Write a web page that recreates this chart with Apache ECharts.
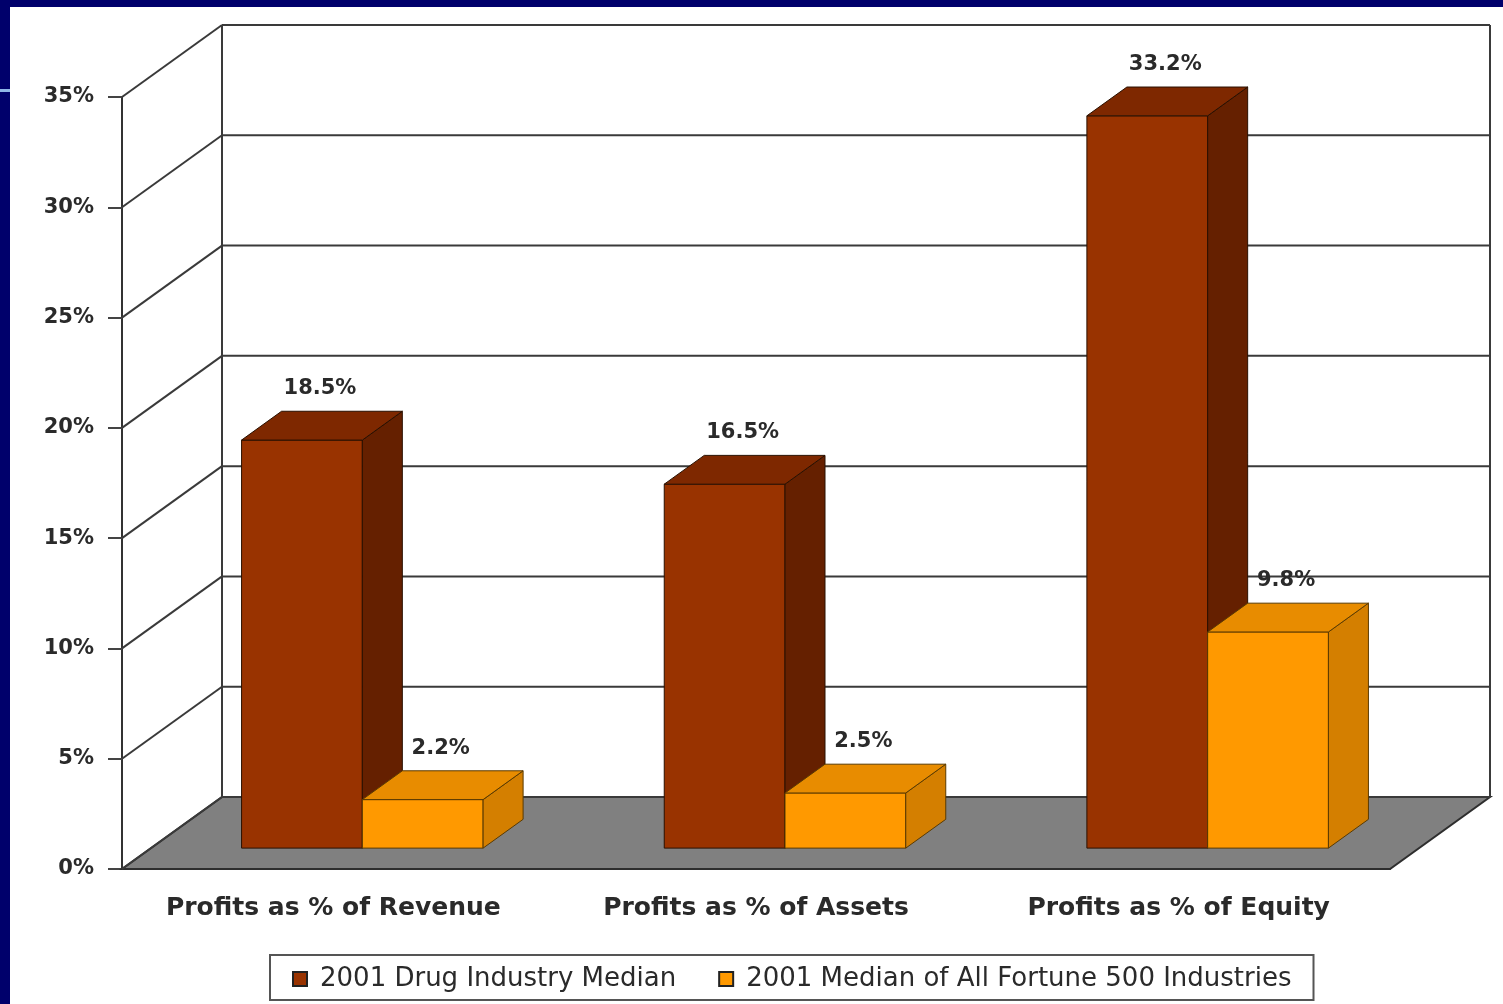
<!DOCTYPE html>
<html>
<head>
<meta charset="utf-8">
<script src="https://cdn.jsdelivr.net/npm/echarts@6/dist/echarts.min.js"></script>
<style>
  html, body { margin: 0; padding: 0; background: #ffffff; }
  #chart { width: 1503px; height: 1004px; }
</style>
</head>
<body>
<div id="chart"></div>
<script>
// Profit comparison, 2001: drug industry vs. all Fortune 500 industries
const categories = ['Profits as % of Revenue', 'Profits as % of Assets', 'Profits as % of Equity'];
const drugMedian = [18.5, 16.5, 33.2];
const fortuneMedian = [2.2, 2.5, 9.8];
const yTicks = [0, 5, 10, 15, 20, 25, 30, 35];
const seriesNames = ['2001 Drug Industry Median', '2001 Median of All Fortune 500 Industries'];

// Pseudo-3D projection: the back wall sits DX right and DY up from the front plane
const DX = 100, DY = 72;
const BAR_FRONT = 0.29;   // depth fraction where bar front faces sit
const BAR_DEPTH = 0.40;   // depth fraction taken by each bar
const GAP = 1.5;          // gap between groups, in bar widths

const FONT = '"DejaVu Sans", Verdana, sans-serif';

const palettes = [
  { front: '#993300', side: '#652000', top: '#7e2800', stroke: '#2a1000' },
  { front: '#ff9900', side: '#d47f00', top: '#e88c00', stroke: '#5a3a00' }
];

function renderWalls(params, api) {
  const cs = params.coordSys;
  const y = api.coord([0, api.value(1)])[1];
  const left = cs.x, right = cs.x + cs.width;
  const children = [];
  const lineStyle = { stroke: '#3a3a3a', lineWidth: 2 };
  if (params.dataIndex === 0) {
    const top = api.coord([0, yTicks[yTicks.length - 1]])[1];
    // floor
    children.push({
      type: 'polygon',
      shape: { points: [[left, y], [right, y], [right + DX, y - DY], [left + DX, y - DY]] },
      style: { fill: '#808080', stroke: '#2e2e2e', lineWidth: 2 }
    });
    // back wall side edges
    children.push({ type: 'line', shape: { x1: left + DX, y1: top - DY, x2: left + DX, y2: y - DY }, style: lineStyle });
    children.push({ type: 'line', shape: { x1: right + DX, y1: top - DY, x2: right + DX, y2: y - DY }, style: lineStyle });
  }
  // gridline on the back wall and its continuation on the left wall
  children.push({ type: 'line', shape: { x1: left + DX, y1: y - DY, x2: right + DX, y2: y - DY }, style: lineStyle });
  children.push({ type: 'line', shape: { x1: left, y1: y, x2: left + DX, y2: y - DY }, style: { stroke: '#3a3a3a', lineWidth: 2 } });
  return { type: 'group', children };
}

function makeBarRenderer(slot) {
  const pal = palettes[slot];
  return function (params, api) {
    const i = api.value(0), v = api.value(1);
    const base = api.coord([i, 0]);
    const peak = api.coord([i, v]);
    const band = api.size([1, 0])[0];
    const barW = band / (2 + GAP);
    const x0 = base[0] + (slot - 1) * barW + BAR_FRONT * DX;
    const yB = base[1] - BAR_FRONT * DY;
    const yT = peak[1] - BAR_FRONT * DY;
    const ddx = BAR_DEPTH * DX, ddy = BAR_DEPTH * DY;
    const x1 = x0 + barW;
    return {
      type: 'group',
      children: [
        { type: 'rect', shape: { x: x0, y: yT, width: barW, height: yB - yT },
          style: { fill: pal.front, stroke: pal.stroke, lineWidth: 1 } },
        { type: 'polygon', shape: { points: [[x1, yT], [x1 + ddx, yT - ddy], [x1 + ddx, yB - ddy], [x1, yB]] },
          style: { fill: pal.side, stroke: pal.stroke, lineWidth: 1 } },
        { type: 'polygon', shape: { points: [[x0, yT], [x0 + ddx, yT - ddy], [x1 + ddx, yT - ddy], [x1, yT]] },
          style: { fill: pal.top, stroke: pal.stroke, lineWidth: 1 } },
        { type: 'text', x: x0 + barW / 2 + ddx / 2 - 2, y: yT - ddy - 12,
          style: { text: v + '%', align: 'center', verticalAlign: 'bottom',
                   font: 'bold 21px ' + FONT, fill: '#2a2a2a' } }
      ]
    };
  };
}

const chart = echarts.init(document.getElementById('chart'), null, { renderer: 'canvas' });

chart.setOption({
  backgroundColor: '#ffffff',
  animation: false,
  grid: { left: 122, top: 97, width: 1268, height: 772, containLabel: false },
  xAxis: {
    type: 'category',
    data: categories,
    axisLine: { lineStyle: { color: '#333333', width: 2 } },
    axisTick: { length: 12, lineStyle: { color: '#555555', width: 2 } },
    axisLabel: { interval: 0, hideOverlap: false, margin: 27, fontFamily: FONT, fontWeight: 'bold', fontSize: 25, color: '#2a2a2a' },
    splitLine: { show: false }
  },
  yAxis: {
    type: 'value',
    min: 0, max: 35, interval: 5,
    axisLine: { show: true, lineStyle: { color: '#333333', width: 2 } },
    axisTick: { show: true, length: 14, lineStyle: { color: '#444444', width: 2 } },
    axisLabel: { margin: 28, formatter: '{value}%', fontFamily: FONT, fontWeight: 'bold', fontSize: 21, color: '#2a2a2a' },
    splitLine: { show: false }
  },
  legend: {
    data: seriesNames,
    left: 270, top: 955,
    orient: 'horizontal',
    icon: 'rect',
    itemWidth: 14, itemHeight: 14,
    itemGap: 42,
    padding: [11, 22, 8, 22],
    borderColor: '#555555', borderWidth: 2,
    backgroundColor: '#ffffff',
    textStyle: { fontFamily: FONT, fontSize: 26, color: '#2a2a2a', padding: [2, 0, 0, 8] }
  },
  series: [
    {
      name: 'walls', type: 'custom', z: 1, clip: false, silent: true,
      data: yTicks.map(v => [0, v]),
      renderItem: renderWalls
    },
    {
      name: seriesNames[0], type: 'custom', z: 2, clip: false,
      itemStyle: { color: palettes[0].front, borderColor: '#222', borderWidth: 1 },
      data: drugMedian.map((v, i) => [i, v]),
      renderItem: makeBarRenderer(0)
    },
    {
      name: seriesNames[1], type: 'custom', z: 3, clip: false,
      itemStyle: { color: palettes[1].front, borderColor: '#222', borderWidth: 1 },
      data: fortuneMedian.map((v, i) => [i, v]),
      renderItem: makeBarRenderer(1)
    }
  ],
  graphic: [
    { type: 'rect', z: 100, shape: { x: 0, y: 0, width: 1503, height: 7 }, style: { fill: '#00006b' } },
    { type: 'rect', z: 100, shape: { x: 0, y: 0, width: 10, height: 1004 }, style: { fill: '#00006b' } },
    { type: 'rect', z: 101, shape: { x: 0, y: 89, width: 10, height: 3 }, style: { fill: '#8fb6e8' } }
  ]
});
</script>
</body>
</html>
